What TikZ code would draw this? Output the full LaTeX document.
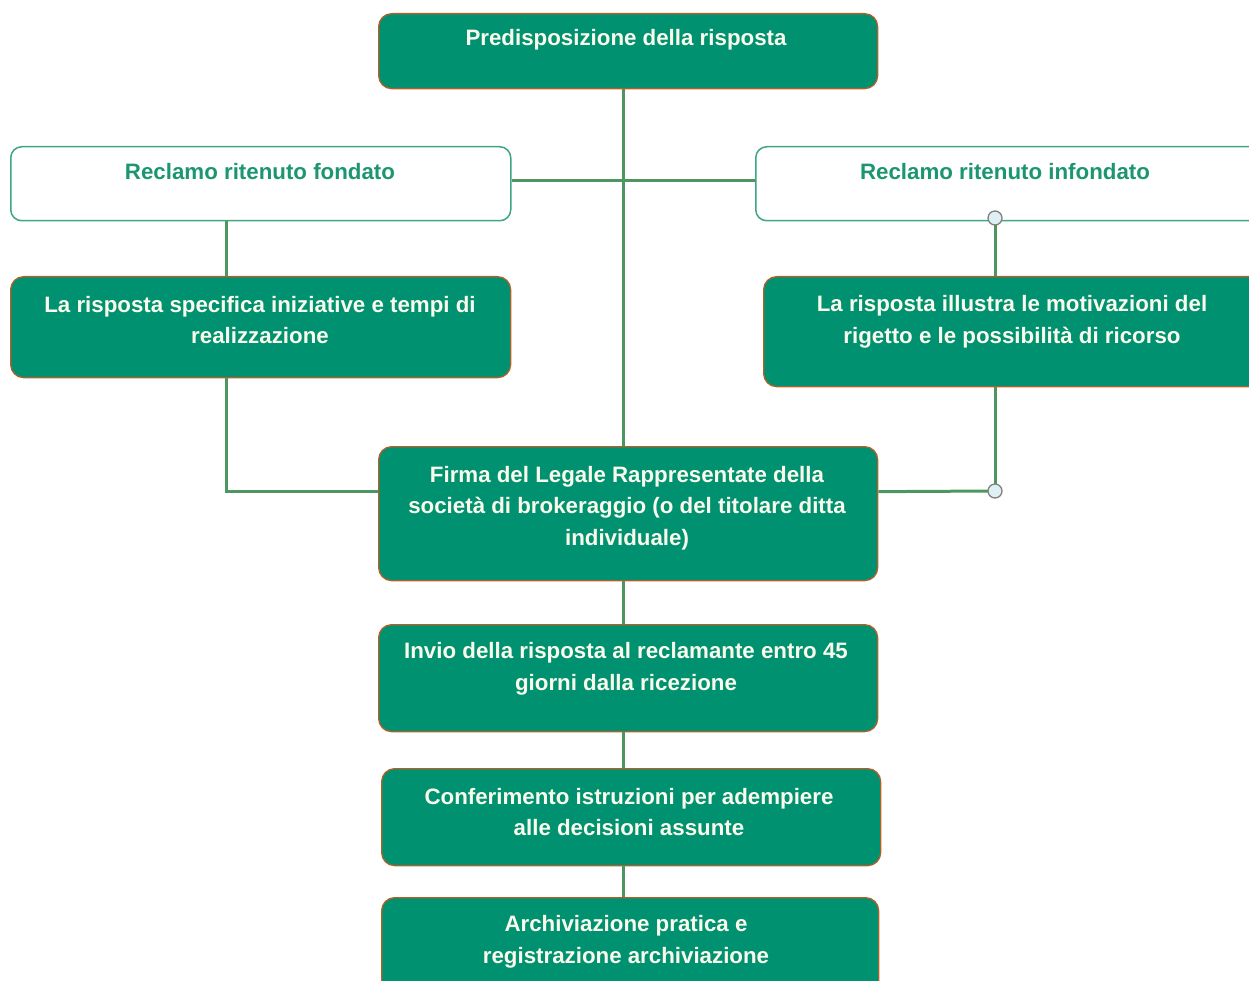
\documentclass[tikz,border=0pt]{standalone}
\usepackage{fontspec}
\setmainfont{Liberation Sans}
\definecolor{boxgreen}{RGB}{0,146,112}
\definecolor{boxbrown}{RGB}{178,96,42}
\definecolor{wborder}{RGB}{62,166,132}
\definecolor{wtextc}{RGB}{28,150,112}
\definecolor{gtextc}{RGB}{250,250,236}
\definecolor{linec}{RGB}{78,150,96}
\definecolor{dotfill}{RGB}{222,240,244}
\begin{document}
\begin{tikzpicture}[x=1pt,y=-1pt,
 gbox/.style={draw=boxbrown, line width=1.3pt, fill=boxgreen, rounded corners=13pt, anchor=north west, inner sep=0pt},
 wbox/.style={draw=wborder, line width=1.5pt, fill=white, rounded corners=11pt, anchor=north west, inner sep=0pt},
 gtext/.style={text=gtextc, font=\fontsize{22.3}{31.5}\selectfont\bfseries, align=center, inner sep=0pt},
 wtext/.style={text=wtextc, font=\fontsize{22.3}{31.5}\selectfont\bfseries, align=center, inner sep=0pt},
 conn/.style={draw=linec, line width=3pt},
 dotnode/.style={circle, draw=gray, fill=dotfill, minimum size=14pt, inner sep=0pt, line width=1.3pt}]
\useasboundingbox (0,0) rectangle (1249,981);
% boxes
\node[gbox, minimum width=499pt, minimum height=75pt] (top) at (378,13) {};
\node[wbox, minimum width=500pt, minimum height=74pt] (wl) at (10,146) {};
\node[wbox, minimum width=510pt, minimum height=74pt] (wr) at (755,146) {};
\node[gbox, minimum width=500pt, minimum height=101pt] (gl) at (10,276) {};
\node[gbox, minimum width=510pt, minimum height=110pt] (gr) at (763,276) {};
\node[gbox, minimum width=499pt, minimum height=134pt] (firma) at (378,446) {};
\node[gbox, minimum width=499pt, minimum height=107pt] (invio) at (378,624) {};
\node[gbox, minimum width=499pt, minimum height=97pt] (conf) at (381,768) {};
\node[gbox, minimum width=497pt, minimum height=100pt] (arch) at (381,897) {};
% texts
\node[gtext] (topt) at (626,40) {Predisposizione della risposta};
\node[wtext] (wlt) at (260,172) {Reclamo ritenuto fondato};
\node[wtext] (wrt) at (1005,172) {Reclamo ritenuto infondato};
\node[gtext] (glt) at (260,320) {La risposta specifica iniziative e tempi di\\realizzazione};
\node[gtext] (grt) at (1012,322) {La risposta illustra le motivazioni del\\rigetto e le possibilità di ricorso};
\node[gtext] (firmat) at (627,508) {Firma del Legale Rappresentate della\\società di brokeraggio (o del titolare ditta\\individuale)};
\node[gtext] (inviot) at (626,669) {Invio della risposta al reclamante entro 45\\giorni dalla ricezione};
\node[gtext] (conft) at (629,812) {Conferimento istruzioni per adempiere\\alle decisioni assunte};
\node[gtext] (archt) at (626,942) {Archiviazione pratica e\\registrazione archiviazione};
% dots positions
\coordinate (d1) at (995,218);
\coordinate (d2) at (995,491);
% connectors
\draw[conn] ([xshift=245pt]top.south west) -- ([xshift=245pt]firma.north west);
\draw[conn] ([yshift=3pt]wl.east) -- ([yshift=3pt]wl.east -| wr.west);
\draw[conn] ([xshift=216pt]wl.south west) -- ([xshift=216pt]gl.north west);
\draw[conn] ([xshift=216pt]gl.south west) |- ([yshift=22pt]firma.west);
\draw[conn] (d1) -- (d1 |- gr.north);
\draw[conn] (d1 |- gr.south) -- (d2);
\draw[conn] ([yshift=22pt]firma.east) -- (d2);
\draw[conn] ([xshift=245pt]firma.south west) -- ([xshift=245pt]invio.north west);
\draw[conn] ([xshift=245pt]invio.south west) -- ([xshift=242pt]conf.north west);
\draw[conn] ([xshift=242pt]conf.south west) -- ([xshift=242pt]arch.north west);
\node[dotnode] (dot1) at (d1) {};
\node[dotnode] (dot2) at (d2) {};
\end{tikzpicture}
\end{document}
